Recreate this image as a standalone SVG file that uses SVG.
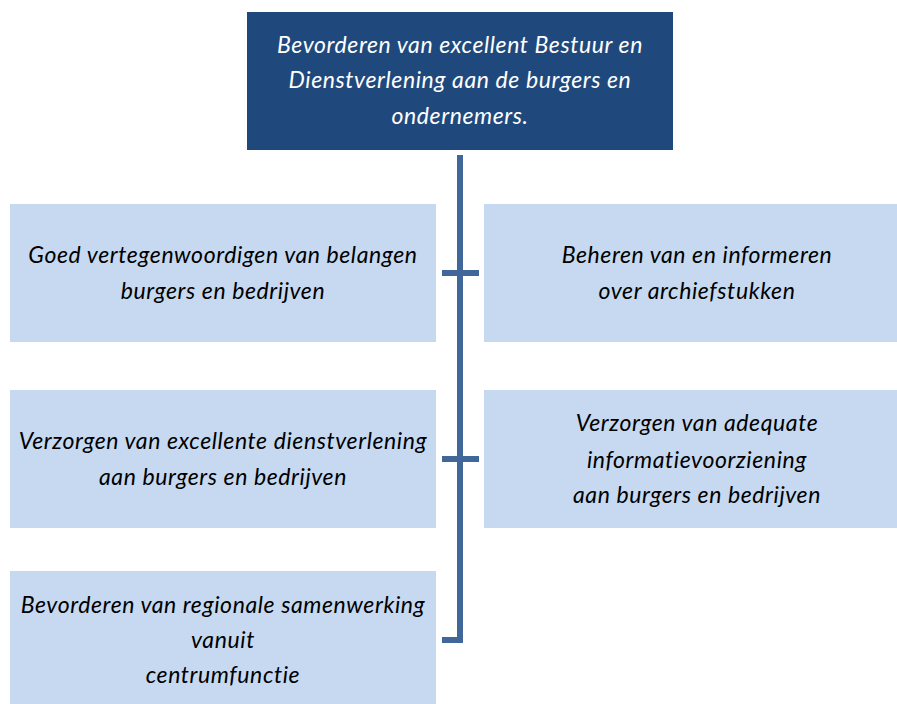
<svg xmlns="http://www.w3.org/2000/svg" width="897" height="704" viewBox="0 0 897 704">
<style>
.top{fill:#1f497d}
.box{fill:#c6d9f1}
text{font-family:Lato,"Open Sans",sans-serif;font-style:italic;font-size:23px;letter-spacing:0.6px;text-anchor:middle}
.w{fill:#ffffff}
.b{fill:#000000}
.con{stroke:#41669a;stroke-width:6;fill:none}
</style>
<rect width="897" height="704" fill="#ffffff"/>
<g id="connectors">
<path class="con" d="M460,155 V640 H442"/>
<path class="con" d="M442,273 H479"/>
<path class="con" d="M442,459 H479"/>
</g>
<g id="n0">
<rect class="top" x="247" y="12" width="426" height="138"/>
<text class="w" x="460" y="53">Bevorderen van excellent Bestuur en</text>
<text class="w" x="460" y="88">Dienstverlening aan de burgers en</text>
<text class="w" x="460" y="124">ondernemers.</text>
</g>
<g id="n1">
<rect class="box" x="10" y="204" width="426" height="138"/>
<text class="b" x="223" y="263">Goed vertegenwoordigen van belangen</text>
<text class="b" x="223" y="299">burgers en bedrijven</text>
</g>
<g id="n2">
<rect class="box" x="484" y="204" width="413" height="138"/>
<text class="b" x="697" y="263">Beheren van en informeren</text>
<text class="b" x="697" y="299">over archiefstukken</text>
</g>
<g id="n3">
<rect class="box" x="10" y="390" width="426" height="138"/>
<text class="b" x="223" y="449">Verzorgen van excellente dienstverlening</text>
<text class="b" x="223" y="485">aan burgers en bedrijven</text>
</g>
<g id="n4">
<rect class="box" x="484" y="390" width="413" height="138"/>
<text class="b" x="697" y="431">Verzorgen van adequate</text>
<text class="b" x="697" y="468">informatievoorziening</text>
<text class="b" x="697" y="503">aan burgers en bedrijven</text>
</g>
<g id="n5">
<rect class="box" x="10" y="571" width="426" height="133"/>
<text class="b" x="223" y="613">Bevorderen van regionale samenwerking</text>
<text class="b" x="223" y="648">vanuit</text>
<text class="b" x="223" y="683">centrumfunctie</text>
</g>
</svg>
